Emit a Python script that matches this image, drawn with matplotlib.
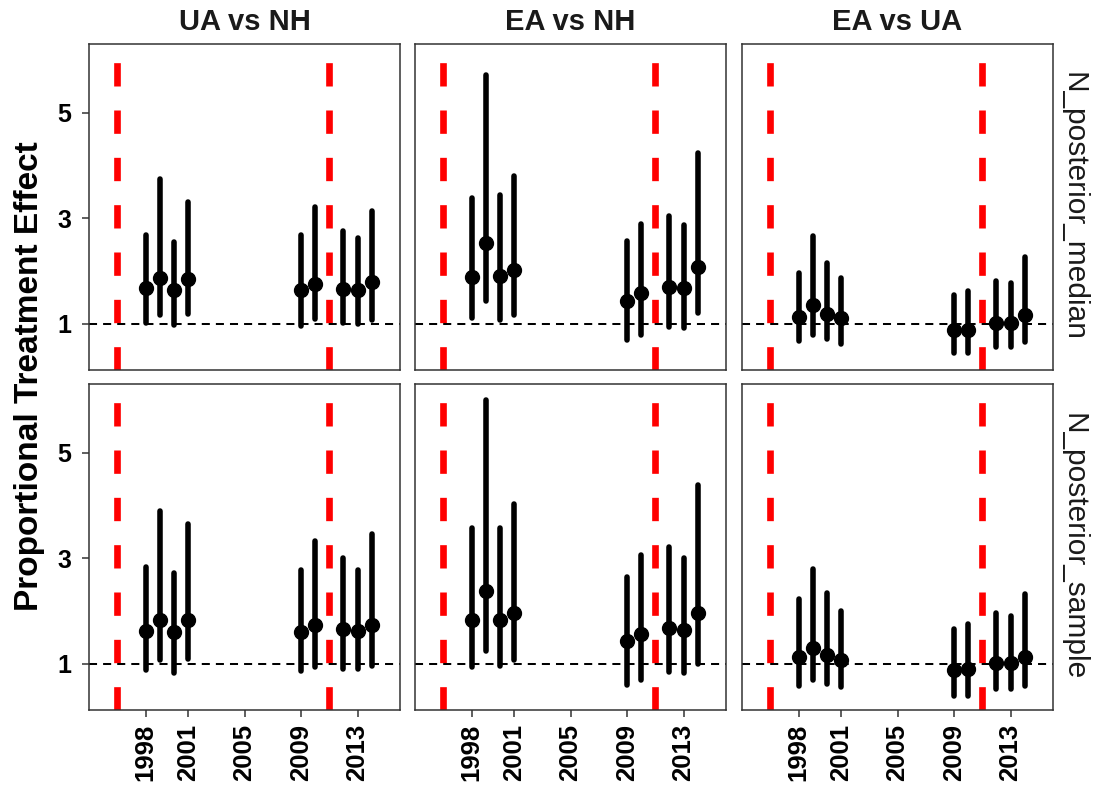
import matplotlib
matplotlib.use("Agg")
import matplotlib.pyplot as plt
import numpy as np

plt.rcParams['font.family'] = ['Liberation Sans', 'DejaVu Sans']

years = [1998, 1999, 2000, 2001, 2009, 2010, 2012, 2013, 2014]
comparisons = ["UA vs NH", "EA vs NH", "EA vs UA"]
methods = ["N_posterior_median", "N_posterior_sample"]
vline_years = [1996, 2011]
ref_value = 1
x_ticks = [1998, 2001, 2005, 2009, 2013]
y_ticks = [1, 3, 5]

# N_posterior_median
est_ua_nh_med = [1.67, 1.86, 1.64, 1.85, 1.64, 1.75, 1.66, 1.64, 1.78]
up_ua_nh_med = [2.68, 3.74, 2.55, 3.30, 2.68, 3.21, 2.75, 2.63, 3.13]
lo_ua_nh_med = [1.01, 1.16, 0.97, 1.19, 0.95, 1.08, 1.01, 1.00, 1.06]

est_ea_nh_med = [1.89, 2.53, 1.90, 2.02, 1.42, 1.58, 1.70, 1.67, 2.07]
up_ea_nh_med = [3.38, 5.71, 3.43, 3.79, 2.56, 2.89, 3.04, 2.86, 4.23]
lo_ea_nh_med = [1.11, 1.43, 1.06, 1.16, 0.69, 0.79, 0.94, 0.91, 1.20]

est_ea_ua_med = [1.13, 1.35, 1.18, 1.10, 0.88, 0.88, 1.02, 1.02, 1.16]
up_ea_ua_med = [1.96, 2.66, 2.14, 1.86, 1.54, 1.62, 1.80, 1.76, 2.26]
lo_ea_ua_med = [0.67, 0.78, 0.70, 0.62, 0.45, 0.45, 0.56, 0.56, 0.66]

# N_posterior_sample
est_ua_nh_smp = [1.62, 1.83, 1.59, 1.83, 1.60, 1.73, 1.66, 1.62, 1.73]
up_ua_nh_smp = [2.83, 3.89, 2.71, 3.64, 2.78, 3.32, 3.00, 2.78, 3.46]
lo_ua_nh_smp = [0.87, 1.06, 0.83, 1.09, 0.85, 0.93, 0.90, 0.89, 0.95]

est_ea_nh_smp = [1.83, 2.38, 1.83, 1.96, 1.42, 1.57, 1.68, 1.64, 1.96]
up_ea_nh_smp = [3.57, 6.00, 3.57, 4.03, 2.64, 3.05, 3.21, 3.00, 4.38]
lo_ea_nh_smp = [0.93, 1.24, 0.96, 1.07, 0.60, 0.68, 0.84, 0.83, 1.00]

est_ea_ua_smp = [1.13, 1.29, 1.17, 1.06, 0.88, 0.89, 1.02, 1.02, 1.13]
up_ea_ua_smp = [2.23, 2.79, 2.34, 1.99, 1.66, 1.75, 1.96, 1.91, 2.31]
lo_ea_ua_smp = [0.58, 0.68, 0.62, 0.55, 0.39, 0.39, 0.52, 0.52, 0.58]

panels = [
    [(est_ua_nh_med, lo_ua_nh_med, up_ua_nh_med),
     (est_ea_nh_med, lo_ea_nh_med, up_ea_nh_med),
     (est_ea_ua_med, lo_ea_ua_med, up_ea_ua_med)],
    [(est_ua_nh_smp, lo_ua_nh_smp, up_ua_nh_smp),
     (est_ea_nh_smp, lo_ea_nh_smp, up_ea_nh_smp),
     (est_ea_ua_smp, lo_ea_ua_smp, up_ea_ua_smp)],
]

W, H = 1094, 789
fig = plt.figure(figsize=(W / 100, H / 100), dpi=100)

col_left = [89, 415, 742]
pw = 311
row_top = [44, 384]
ph = 326

for r in range(2):
    for c in range(3):
        ax = fig.add_axes([col_left[c] / W, 1 - (row_top[r] + ph) / H, pw / W, ph / H])
        est, lo, up = panels[r][c]
        for v in vline_years:
            ax.axvline(v, color='#ff0000', lw=4.8, linestyle=(0, (3.5, 3.6)), zorder=1)
        ax.axhline(ref_value, color='black', lw=1.45, linestyle=(0, (4, 3)), zorder=2)
        lc = ax.vlines(years, lo, up, color='black', lw=4.0, zorder=3)
        lc.set_capstyle('round')
        ax.plot(years, est, 'o', color='black', ms=10, zorder=4)
        ax.set_xlim(1994, 2016)
        ax.set_ylim(0.12, 6.30)
        ax.set_xticks(x_ticks)
        ax.set_yticks(y_ticks)
        for s in ax.spines.values():
            s.set_color('#333333')
            s.set_linewidth(1.1)
        ax.tick_params(axis='both', color='#333333', length=5, width=1.1)
        if r == 1:
            ax.set_xticklabels([str(t) for t in x_ticks], rotation=90,
                               fontsize=18.5, fontweight='bold')
            ax.tick_params(axis='x', pad=5)
        else:
            ax.tick_params(axis='x', bottom=False, labelbottom=False)
        if c == 0:
            ax.set_yticklabels([str(t) for t in y_ticks], fontsize=18, fontweight='bold')
            ax.tick_params(axis='y', pad=8)
        else:
            ax.tick_params(axis='y', left=False, labelleft=False)
        if r == 0:
            ax.text(0.5, 1 + 22 / ph, comparisons[c], transform=ax.transAxes,
                    ha='center', va='center', fontsize=21, fontweight='bold',
                    color='#1a1a1a')
        if c == 2:
            ax.text(1 + 20 / pw, 0.5, methods[r], transform=ax.transAxes,
                    ha='center', va='center', rotation=-90, fontsize=21.5,
                    color='#1a1a1a')

fig.text(30 / W, 1 - 376 / H, "Proportional Treatment Effect", rotation=90,
         ha='center', va='center', fontsize=24, fontweight='bold')

fig.savefig("out.png", dpi=100, facecolor='white')
